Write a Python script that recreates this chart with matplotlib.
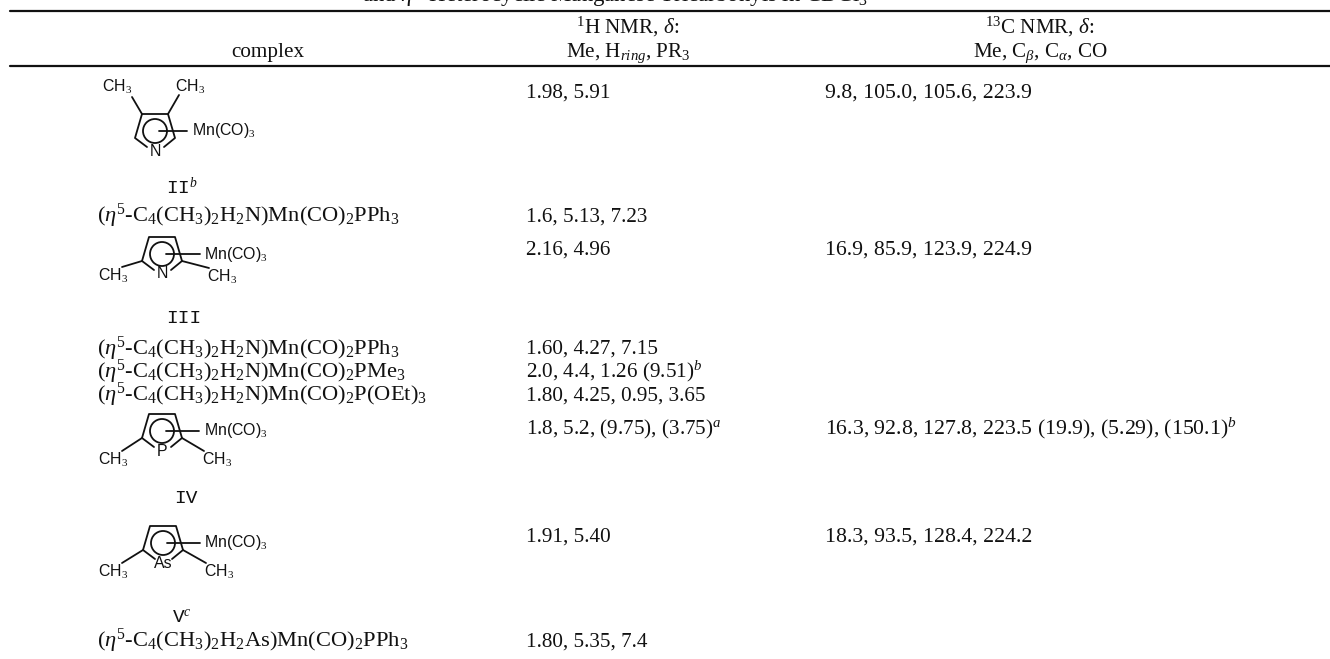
"""
Table: NMR data for heterocyclic manganese tricarbonyls, redrawn as text and line art
"""
import matplotlib
matplotlib.use('Agg')
import matplotlib.pyplot as plt
from matplotlib.patches import Circle

W, H = 1330, 659

plt.rcParams['font.family'] = ['Liberation Serif', 'DejaVu Sans']
plt.rcParams['mathtext.fontset'] = 'custom'
plt.rcParams['mathtext.rm'] = 'Liberation Serif'
plt.rcParams['mathtext.it'] = 'Liberation Serif:italic'

CAPTION = r'and $\mathit{\eta}^5$-Heterocyclic Manganese Tricarbonyls in CDCl$_3$'
HEAD_COMPLEX = 'complex'
HEAD_H = [r'$^{1}$H NMR, $\mathit{\delta}$:', r'Me, H$_{\mathit{ring}}$, PR$_3$']
HEAD_C = [r'$^{13}$C NMR, $\mathit{\delta}$:', r'Me, C$_{\mathit{\beta}}$, C$_{\mathit{\alpha}}$, CO']

ETA = r'($\mathit{\eta}^5$-C$_4$(CH$_3$)$_2$H$_2$'
FORMULAS = [ETA + r'N)Mn(CO)$_2$PPh$_3$',
            ETA + r'N)Mn(CO)$_2$PPh$_3$',
            ETA + r'N)Mn(CO)$_2$PMe$_3$',
            ETA + r'N)Mn(CO)$_2$P(OEt)$_3$',
            ETA + r'As)Mn(CO)$_2$PPh$_3$']
FORMULA_Y = [222, 355, 378, 401, 647]

H_VALUES = ['1.98, 5.91', '1.6, 5.13, 7.23', '2.16, 4.96', '1.60, 4.27, 7.15',
            r'2.0, 4.4, 1.26 (9.51)$^{\mathit{b}}$', '1.80, 4.25, 0.95, 3.65',
            r'1.8, 5.2, (9.75), (3.75)$^{\mathit{a}}$', '1.91, 5.40', '1.80, 5.35, 7.4']
H_Y = [98, 222, 255, 354, 377, 401, 434, 542, 647]

C_VALUES = ['9.8, 105.0, 105.6, 223.9', '16.9, 85.9, 123.9, 224.9',
            r'16.3, 92.8, 127.8, 223.5 (19.9), (5.29), (150.1)$^{\mathit{b}}$',
            '18.3, 93.5, 128.4, 224.2']
C_Y = [98, 255, 434, 542]

LABELS = [r'II$^{\mathit{b}}$', 'III', 'IV', r'V$^{\mathit{c}}$']
LABEL_X = [182, 184, 186, 182]
LABEL_Y = [194, 323, 503, 622]

INK = '#111111'


def line(ax, xs, ys, lw=1.3):
    ax.plot(xs, ys, color=INK, lw=lw, solid_capstyle='round')


def small(ax, x, y, s, size=11.4):
    ax.text(x, y, s, family=['Liberation Sans'], fontsize=size, ha='center', va='center', color=INK)


def ring(ax, cx, top, hetero, hetero_y, bond_end, mn_x, vertex=24):
    # five membered ring, heteroatom at the bottom; cx is the centre line, top the upper bond
    line(ax, [cx - 8, cx - 20, cx - 13, cx + 13, cx + 20, cx + 9],
         [top + vertex + 9, top + vertex, top, top, top + vertex, top + vertex + 9])
    ax.add_patch(Circle((cx, top + 17), 12, fill=False, ec=INK, lw=1.3))
    small(ax, cx, hetero_y, hetero)
    line(ax, [cx + 4, bond_end], [top + 17, top + 17])
    small(ax, mn_x, top + 17, r'Mn(CO)$_3$')


def methyls(ax, cx, top, left, right, vertex=24):
    # ring substituents in the 2,5 positions, left and right are (x, y) of the CH3 labels
    line(ax, [cx - 20, left[0] + 9], [top + vertex, left[1] - 9])
    line(ax, [cx + 20, right[0] - 13], [top + vertex, right[1] - 9])
    small(ax, left[0], left[1], r'CH$_3$')
    small(ax, right[0], right[1], r'CH$_3$')


fig = plt.figure(figsize=(W / 100, H / 100), dpi=100)
ax = fig.add_axes([0, 0, 1, 1])
ax.set_xlim(0, W)
ax.set_ylim(H, 0)
ax.axis('off')

# rules
line(ax, [10, 1330], [10.5, 10.5], lw=1.6)
line(ax, [10, 1330], [66, 66], lw=1.6)

FS = 15.2
FORMULA_FS = 16.2
ax.text(615, 3, CAPTION, fontsize=16.4, ha='center', va='baseline', color=INK)
ax.text(268, 57, HEAD_COMPLEX, fontsize=FS, ha='center', va='baseline', color=INK)
ax.text(628, 33, HEAD_H[0], fontsize=FS, ha='center', va='baseline', color=INK)
ax.text(628, 57, HEAD_H[1], fontsize=FS, ha='center', va='baseline', color=INK)
ax.text(1040, 33, HEAD_C[0], fontsize=FS, ha='center', va='baseline', color=INK)
ax.text(1040, 57, HEAD_C[1], fontsize=FS, ha='center', va='baseline', color=INK)

for s, y in zip(FORMULAS, FORMULA_Y):
    ax.text(97, y, s, fontsize=FORMULA_FS, ha='left', va='baseline', color=INK)
for s, y in zip(H_VALUES, H_Y):
    ax.text(526, y, s, fontsize=FS, ha='left', va='baseline', color=INK)
for s, y in zip(C_VALUES, C_Y):
    ax.text(825, y, s, fontsize=FS * 1.03, ha='left', va='baseline', color=INK)
for s, x, y in zip(LABELS, LABEL_X, LABEL_Y):
    ax.text(x, y, s, family=['Liberation Mono'], fontsize=14, ha='center', va='baseline', color=INK)

# structure II (3,4-dimethyl)
ring(ax, 155, 114, 'N', 152, 187, 224)
line(ax, [132, 142], [97, 114])
line(ax, [179, 168], [95, 114])
small(ax, 117, 87, r'CH$_3$')
small(ax, 190, 87, r'CH$_3$')

# structures III, IV, V (2,5-dimethyl)
ring(ax, 162, 237, 'N', 273, 200, 236)
methyls(ax, 162, 237, (113, 276), (222, 277))
ring(ax, 162, 414, 'P', 452, 199, 236)
methyls(ax, 162, 414, (113, 460), (217, 460))
ring(ax, 163, 526, 'As', 564, 200, 236)
methyls(ax, 163, 526, (113, 572), (219, 572))

fig.savefig('out.png', dpi=100, facecolor='white')
plt.close(fig)
